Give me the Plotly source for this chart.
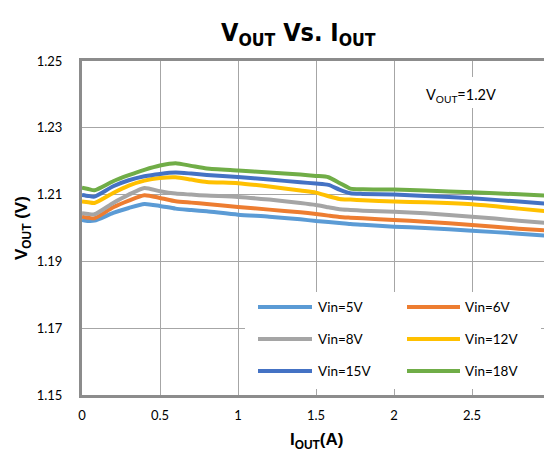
import plotly.graph_objects as go

# ---- data ----
iout = [0, 0.04, 0.08, 0.2, 0.3, 0.4, 0.5, 0.6, 0.7, 0.8, 1.0, 1.2, 1.4, 1.5,
        1.58, 1.65, 1.72, 1.8, 2.0, 2.2, 2.5, 2.8, 3.0]

vin_5v = [1.2024, 1.2021, 1.2022, 1.2045, 1.2060, 1.2072, 1.2066, 1.2058, 1.2054, 1.2050,
          1.2040, 1.2034, 1.2026, 1.2021, 1.2018, 1.2015, 1.2012, 1.2010, 1.2004, 1.2000,
          1.1992, 1.1983, 1.1976]
vin_6v = [1.2034, 1.2031, 1.2029, 1.2062, 1.2082, 1.2098, 1.2090, 1.2080, 1.2076, 1.2072,
          1.2063, 1.2055, 1.2047, 1.2042, 1.2037, 1.2033, 1.2031, 1.2029, 1.2024, 1.2019,
          1.2009, 1.1998, 1.1992]
vin_8v = [1.2044, 1.2042, 1.2041, 1.2075, 1.2100, 1.2120, 1.2110, 1.2103, 1.2100, 1.2097,
          1.2093, 1.2085, 1.2075, 1.2069, 1.2062, 1.2056, 1.2054, 1.2052, 1.2049, 1.2044,
          1.2034, 1.2022, 1.2014]
vin_12v = [1.2079, 1.2077, 1.2075, 1.2105, 1.2127, 1.2142, 1.2150, 1.2152, 1.2145, 1.2138,
           1.2134, 1.2124, 1.2112, 1.2106, 1.2095, 1.2087, 1.2085, 1.2083, 1.2079, 1.2077,
           1.2071, 1.2058, 1.2049]
vin_15v = [1.2099, 1.2096, 1.2094, 1.2125, 1.2143, 1.2155, 1.2162, 1.2166, 1.2163, 1.2159,
           1.2153, 1.2145, 1.2137, 1.2133, 1.2129, 1.2115, 1.2104, 1.2102, 1.2100, 1.2096,
           1.2089, 1.2079, 1.2072]
vin_18v = [1.2121, 1.2117, 1.2113, 1.2140, 1.2158, 1.2174, 1.2187, 1.2194, 1.2186, 1.2178,
           1.2172, 1.2166, 1.2160, 1.2156, 1.2152, 1.2135, 1.2118, 1.2116, 1.2115, 1.2112,
           1.2107, 1.2101, 1.2096]

series_names = ["Vin=5V", "Vin=6V", "Vin=8V", "Vin=12V", "Vin=15V", "Vin=18V"]
series_values = [vin_5v, vin_6v, vin_8v, vin_12v, vin_15v, vin_18v]
series_colors = ["#5B9BD5", "#ED7D31", "#A5A5A5", "#FFC000", "#4472C4", "#70AD47"]

x_ticks = [0, 0.5, 1, 1.5, 2, 2.5, 3]
x_tick_labels = ["0", "0.5", "1", "1.5", "2", "2.5", "3"]
y_ticks = [1.15, 1.17, 1.19, 1.21, 1.23, 1.25]
y_tick_labels = ["1.15", "1.17", "1.19", "1.21", "1.23", "1.25"]

# ---- layout geometry (page body has an 8px default margin) ----
OFF = 8
W, H = 552 - OFF, 459 - OFF
L, T = 82 - OFF, 61 - OFF
R = W - (550 - OFF)
B = H - (395 - OFF)
PW, PH = W - L - R, H - T - B


def px(xp):
    """page pixel x -> paper fraction"""
    return (xp - OFF - L) / PW


def py(yp):
    """page pixel y -> paper fraction"""
    return (H - B - (yp - OFF)) / PH


TEXT_FAMILY = "Lato, Carlito, Calibri, sans-serif"
TICK_FONT = dict(family=TEXT_FAMILY, size=13, color="#000000")

fig = go.Figure()
for name, vals, col in zip(series_names, series_values, series_colors):
    fig.add_trace(go.Scatter(
        x=iout, y=vals, name=name, mode="lines",
        line=dict(color=col, width=4, shape="spline", smoothing=0.6),
        showlegend=False,
    ))

shapes = []
annotations = []

# legend background + entries (built from the series lists)
shapes.append(dict(type="rect", xref="paper", yref="paper",
                   x0=px(245), x1=px(541), y0=py(389), y1=py(292),
                   fillcolor="white", line=dict(width=0), layer="above"))
col_line_x = [(258, 312), (407, 460)]
col_text_x = [316, 463]
row_y = [307, 339, 371]
for i, (name, col) in enumerate(zip(series_names, series_colors)):
    r, c = divmod(i, 2)
    x0, x1 = col_line_x[c]
    shapes.append(dict(type="line", xref="paper", yref="paper",
                       x0=px(x0), x1=px(x1), y0=py(row_y[r]), y1=py(row_y[r]),
                       line=dict(color=col, width=4), layer="above"))
    annotations.append(dict(xref="paper", yref="paper", x=px(col_text_x[c]), y=py(row_y[r]),
                            text=name, showarrow=False, xanchor="left", yanchor="middle",
                            font=dict(family=TEXT_FAMILY, size=13.5, color="#000000")))

# VOUT = 1.2V label box
shapes.append(dict(type="rect", xref="paper", yref="paper",
                   x0=px(409), x1=px(516), y0=py(108), y1=py(77),
                   fillcolor="white", line=dict(width=0), layer="above"))
annotations.append(dict(xref="paper", yref="paper", x=px(461), y=py(95),
                        text="V<sub>OUT</sub>=1.2V", showarrow=False,
                        xanchor="center", yanchor="middle",
                        font=dict(family=TEXT_FAMILY, size=14.5, color="#000000")))

# Title
annotations.append(dict(xref="paper", yref="paper", x=px(298), y=py(34),
                        text="<b>V<sub>OUT</sub> Vs. I<sub>OUT</sub></b>", showarrow=False,
                        xanchor="center", yanchor="middle",
                        font=dict(family="Liberation Sans Narrow, DejaVu Sans Condensed, Arial Narrow, sans-serif",
                                  size=25, color="#000000")))
# axis titles
annotations.append(dict(xref="paper", yref="paper", x=px(316), y=py(441),
                        text="<b>I<sub>OUT</sub>(A)</b>", showarrow=False,
                        xanchor="center", yanchor="middle",
                        font=dict(family="Liberation Sans, Arial, sans-serif", size=17,
                                  color="#000000")))
annotations.append(dict(xref="paper", yref="paper", x=px(23), y=py(228),
                        text="<b>V<sub>OUT</sub> (V)</b>", showarrow=False, textangle=-90,
                        xanchor="center", yanchor="middle",
                        font=dict(family="Liberation Sans, Arial, sans-serif", size=17,
                                  color="#000000")))

fig.update_layout(
    width=W, height=H,
    margin=dict(l=L, r=R, t=T, b=B, pad=0),
    paper_bgcolor="white", plot_bgcolor="white",
    shapes=shapes, annotations=annotations,
    showlegend=False,
    xaxis=dict(range=[0, 3], tickmode="array", tickvals=x_ticks, ticktext=x_tick_labels,
               showgrid=True, gridcolor="#A6A6A6", gridwidth=1,
               showline=True, linecolor="#8C8C8C", linewidth=3, mirror=True,
               zeroline=False, ticks="", tickfont=TICK_FONT, ticklabelstandoff=6,
               ticklabeloverflow="allow", automargin=False),
    yaxis=dict(range=[1.15, 1.25], tickmode="array", tickvals=y_ticks, ticktext=y_tick_labels,
               showgrid=True, gridcolor="#A6A6A6", gridwidth=1,
               showline=True, linecolor="#8C8C8C", linewidth=3, mirror=True,
               zeroline=False, ticks="", tickfont=TICK_FONT, ticklabelstandoff=14,
               automargin=False),
)

fig.write_html("out.html")
